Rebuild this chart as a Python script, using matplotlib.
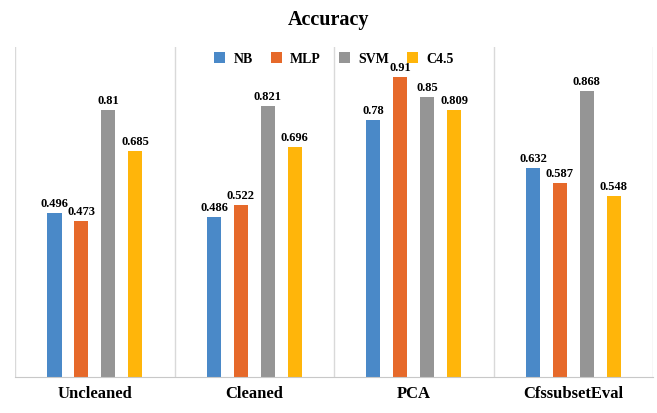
import numpy as np
import matplotlib.pyplot as plt

plt.rcParams['font.family'] = ['Liberation Serif', 'DejaVu Serif']

# data
groups = ['Uncleaned', 'Cleaned', 'PCA', 'CfssubsetEval']
models = ['NB', 'MLP', 'SVM', 'C4.5']
nb = [0.496, 0.486, 0.78, 0.632]
mlp = [0.473, 0.522, 0.91, 0.587]
svm = [0.81, 0.821, 0.85, 0.868]
c45 = [0.685, 0.696, 0.809, 0.548]
labels = [['0.496', '0.486', '0.78', '0.632'],
          ['0.473', '0.522', '0.91', '0.587'],
          ['0.81', '0.821', '0.85', '0.868'],
          ['0.685', '0.696', '0.809', '0.548']]
colors = ['#4a89c8', '#e6692a', '#959595', '#ffb50a']

fig = plt.figure(figsize=(6.57, 4.14), dpi=100)
ax = fig.add_axes([0.023, 0.087, 0.971, 0.797])

x = np.arange(len(groups))
offsets = [-0.253, -0.084, 0.084, 0.253]
w = 0.088
for i, vals in enumerate([nb, mlp, svm, c45]):
    bars = ax.bar(x + offsets[i], vals, w, color=colors[i], label=models[i])
    for b, t in zip(bars, labels[i]):
        ax.text(b.get_x() + b.get_width() / 2, b.get_height() + 0.012, t,
                ha='center', va='bottom', fontsize=9, fontweight='bold')

# group separators
for s in np.arange(len(groups) + 1) - 0.5:
    ax.axvline(s, color='#d9d9d9', lw=1, zorder=0)

ax.set_xlim(-0.5, len(groups) - 0.5)
ax.set_ylim(0, 1.0)
ax.set_yticks([])
ax.set_xticks(x)
ax.set_xticklabels(groups, fontsize=12, fontweight='bold')
ax.tick_params(axis='x', length=0, pad=6)
for sp in ['top', 'left', 'right']:
    ax.spines[sp].set_visible(False)
ax.spines['bottom'].set_color('#c8c8c8')

ax.legend(loc='upper center', bbox_to_anchor=(0.5, 1.022), ncol=4, frameon=False,
          prop={'weight': 'bold', 'size': 10}, handlelength=0.8, handleheight=0.8,
          columnspacing=1.3, handletextpad=0.6)

fig.suptitle('Accuracy', y=0.975, fontsize=14.5, fontweight='bold')

fig.savefig('out.png', dpi=100)
